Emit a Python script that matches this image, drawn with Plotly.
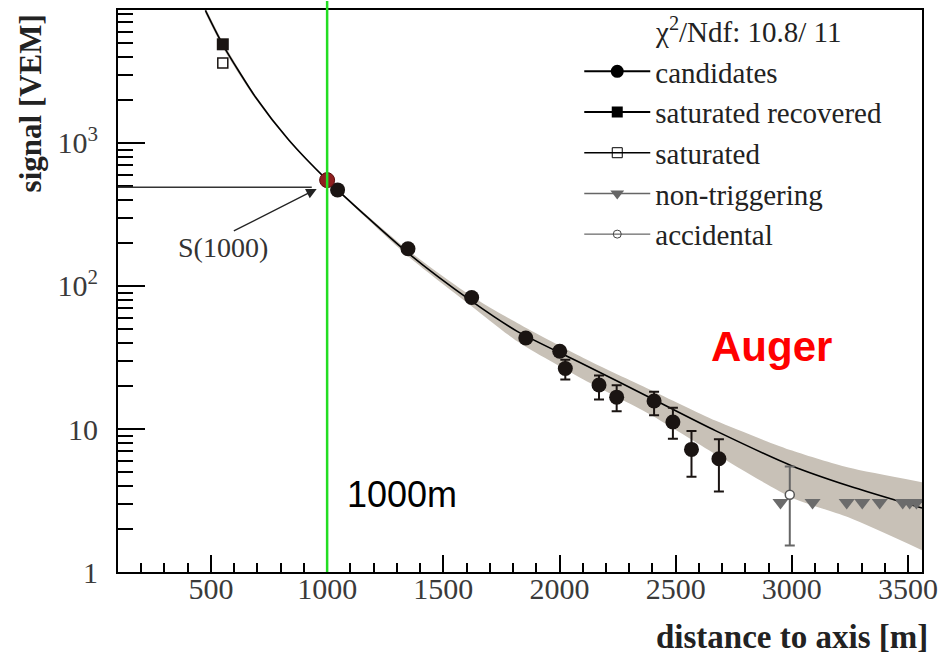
import plotly.graph_objects as go

# ---------------- data ----------------
fit_x = [476, 550, 693, 835, 1000, 1350, 1623, 1818, 2103, 2388, 2673, 3001, 3243, 3560]
fit_y = [8450, 4900, 2080, 1048, 550, 169, 78, 48.2, 28.4, 16.6, 9.7, 5.52, 4.01, 2.80]
band_hi = [8850, 5130, 2140, 1068, 555, 177, 84.5, 55.1, 31.4, 18.9, 11.4, 7.06, 5.37, 4.25]
band_lo = [8070, 4680, 2020, 1029, 545, 161, 72, 41.1, 22.2, 12.7, 6.66, 3.31, 2.41, 1.42]

cand_x = [1045, 1348, 1622, 1855, 2001, 2025, 2170, 2246, 2407, 2488, 2568, 2686]
cand_y = [470, 182, 83, 43.3, 35, 26.5, 20.3, 16.7, 15.7, 11.2, 7.2, 6.2]
cand_ep = [15, 6, 3, 2, 2.5, 4, 3.4, 3.5, 2.5, 2.9, 2.48, 2.27]
cand_em = [15, 6, 3, 2, 2.5, 4.3, 4.2, 3.4, 3.2, 2.64, 2.57, 2.54]

satrec_x = [551]
satrec_y = [4900]
sat_x = [551]
sat_y = [3620]

nontrig_x = [2951, 3089, 3236, 3303, 3378, 3477, 3507, 3536]
nontrig_y = [3.06, 3.06, 3.06, 3.06, 3.06, 3.06, 3.06, 3.06]

acc_x = [2991]
acc_y = [3.47]
acc_ep = [2.0]
acc_em = [1.94]

s1000_x = [1000]
s1000_y = [550]

legend_names = ["candidates", "saturated recovered", "saturated", "non-triggering", "accidental"]
ytick_vals = [1, 10, 100, 1000]
ytick_text = ["1", "10", "10<sup>2</sup>", "10<sup>3</sup>"]

SERIF = "Liberation Serif, Times New Roman, serif"
SANS = "Liberation Sans, Arial, sans-serif"

fig = go.Figure()

# uncertainty band
fig.add_trace(go.Scatter(x=fit_x, y=band_lo, mode="lines", line=dict(width=0, shape="spline", smoothing=0.7),
                         showlegend=False, hoverinfo="skip"))
fig.add_trace(go.Scatter(x=fit_x, y=band_hi, mode="lines", line=dict(width=0, shape="spline", smoothing=0.7),
                         fill="tonexty", fillcolor="#c8c1b7", showlegend=False, hoverinfo="skip"))
# fit line
fig.add_trace(go.Scatter(x=fit_x, y=fit_y, mode="lines",
                         line=dict(color="black", width=1.6, shape="spline", smoothing=0.7),
                         showlegend=False))

# data points
fig.add_trace(go.Scatter(x=nontrig_x, y=nontrig_y, mode="markers",
                         marker=dict(symbol="triangle-down", size=14, color="#6b6b6b"), showlegend=False))
fig.add_trace(go.Scatter(x=acc_x, y=acc_y, mode="markers",
                         error_y=dict(type="data", symmetric=False, array=acc_ep, arrayminus=acc_em,
                                      color="#666666", thickness=2, width=5),
                         marker=dict(symbol="circle", size=9, color="white", line=dict(color="#555555", width=1.5)),
                         showlegend=False))
fig.add_trace(go.Scatter(x=cand_x, y=cand_y, mode="markers",
                         error_y=dict(type="data", symmetric=False, array=cand_ep, arrayminus=cand_em,
                                      color="#1a1412", thickness=2, width=5),
                         marker=dict(symbol="circle", size=15, color="#1a1412"), showlegend=False))
fig.add_trace(go.Scatter(x=satrec_x, y=satrec_y, mode="markers",
                         marker=dict(symbol="square", size=12, color="#1a1412"), showlegend=False))
fig.add_trace(go.Scatter(x=sat_x, y=sat_y, mode="markers",
                         marker=dict(symbol="square-open", size=10, color="#1a1412", line=dict(width=1.5)),
                         showlegend=False))
fig.add_trace(go.Scatter(x=s1000_x, y=s1000_y, mode="markers",
                         marker=dict(symbol="circle", size=15, color="#8e1f1f", line=dict(color="#5a1010", width=1)),
                         showlegend=False))

# legend entries (line + marker glyphs, as in the reference)
leg_styles = [
    dict(line=dict(color="black", width=2), marker=dict(symbol="circle", size=13, color="black")),
    dict(line=dict(color="black", width=2), marker=dict(symbol="square", size=11, color="black")),
    dict(line=dict(color="black", width=1.5), marker=dict(symbol="square-open", size=10, color="black")),
    dict(line=dict(color="#666666", width=1.5), marker=dict(symbol="triangle-down", size=12, color="#666666")),
    dict(line=dict(color="#444444", width=1), marker=dict(symbol="circle-open", size=8, color="#444444")),
]
for i, (name, st) in enumerate(zip(legend_names, leg_styles)):
    fig.add_trace(go.Scatter(x=[None], y=[None], mode="lines+markers", name=name,
                             legendgroup=f"g{i}", showlegend=True, **st))

fig.update_layout(
    width=946, height=658,
    margin=dict(l=118, r=19, t=8, b=86),
    paper_bgcolor="white", plot_bgcolor="white",
    showlegend=True,
    legend=dict(x=0.5737, y=0.936, xanchor="left", yanchor="top", bgcolor="rgba(0,0,0,0)",
                font=dict(family=SERIF, size=29, color="#222222"), tracegroupgap=6.7,
                itemwidth=66, traceorder="normal"),
    xaxis=dict(range=[100, 3560], tick0=0, dtick=500, showgrid=False, zeroline=False,
               showline=True, linecolor="black", linewidth=2, mirror=True,
               ticks="inside", ticklen=17, tickwidth=2, tickcolor="black",
               minor=dict(dtick=100, tick0=0, ticks="inside", ticklen=9, tickwidth=2, tickcolor="black", showgrid=False),
               tickfont=dict(family=SERIF, size=30, color="#3a3a3a"), ticklabelstandoff=-11),
    yaxis=dict(type="log", range=[0, 3.93], tickvals=ytick_vals, ticktext=ytick_text,
               showgrid=False, zeroline=False,
               showline=True, linecolor="black", linewidth=2, mirror=True,
               ticks="inside", ticklen=27, tickwidth=2, tickcolor="black",
               minor=dict(tickvals=[m * 10 ** k for k in range(4) for m in range(2, 10)],
                          ticks="inside", ticklen=15, tickwidth=2, tickcolor="black", showgrid=False),
               tickfont=dict(family=SERIF, size=30, color="#3a3a3a"), ticklabelstandoff=12),
    shapes=[
        dict(type="line", xref="x", yref="paper", x0=1000, x1=1000, y0=0, y1=1.016,
             line=dict(color="#22dd22", width=2.5), layer="above"),
        dict(type="line", xref="paper", yref="paper", x0=0, x1=0.241, y0=0.6846, y1=0.6846,
             line=dict(color="#333333", width=1.5)),
    ],
    annotations=[
        dict(text="χ<sup>2</sup>/Ndf: 10.8/ 11", xref="paper", yref="paper", x=0.784, y=0.9645,
             showarrow=False, font=dict(family=SERIF, size=29, color="#222222"), xanchor="center", yanchor="middle"),
        dict(text="S(1000)", xref="paper", yref="paper", x=0.131, y=0.578, showarrow=False,
             xanchor="center", yanchor="middle",
             font=dict(family=SERIF, size=28, color="#333333")),
        dict(text="", x=955, y=2.679, xref="x", yref="y", ax=592, ay=2.380, axref="x", ayref="y",
             showarrow=True, arrowhead=2, arrowsize=1.6, arrowwidth=1.3, arrowcolor="#222222"),
        dict(text="1000m", xref="paper", yref="paper", x=0.3535, y=0.1375, showarrow=False,
             xanchor="center", yanchor="middle",
             font=dict(family=SANS, size=36, color="black")),
        dict(text="<b>Auger</b>", xref="paper", yref="paper", x=0.813, y=0.402, showarrow=False,
             xanchor="center", yanchor="middle",
             font=dict(family=SANS, size=42, color="#ff0000")),
        dict(text="<b>distance to axis [m]</b>", xref="paper", yref="paper", x=1.01, y=-0.116,
             xanchor="right", yanchor="middle", showarrow=False,
             font=dict(family=SERIF, size=33, color="#222222")),
        dict(text="<b>signal [VEM]</b>", xref="paper", yref="paper", x=-0.1088, y=0.833,
             xanchor="center", yanchor="middle", textangle=-90, showarrow=False,
             font=dict(family=SERIF, size=31, color="#222222")),
    ],
)

fig.write_html("out.html")
